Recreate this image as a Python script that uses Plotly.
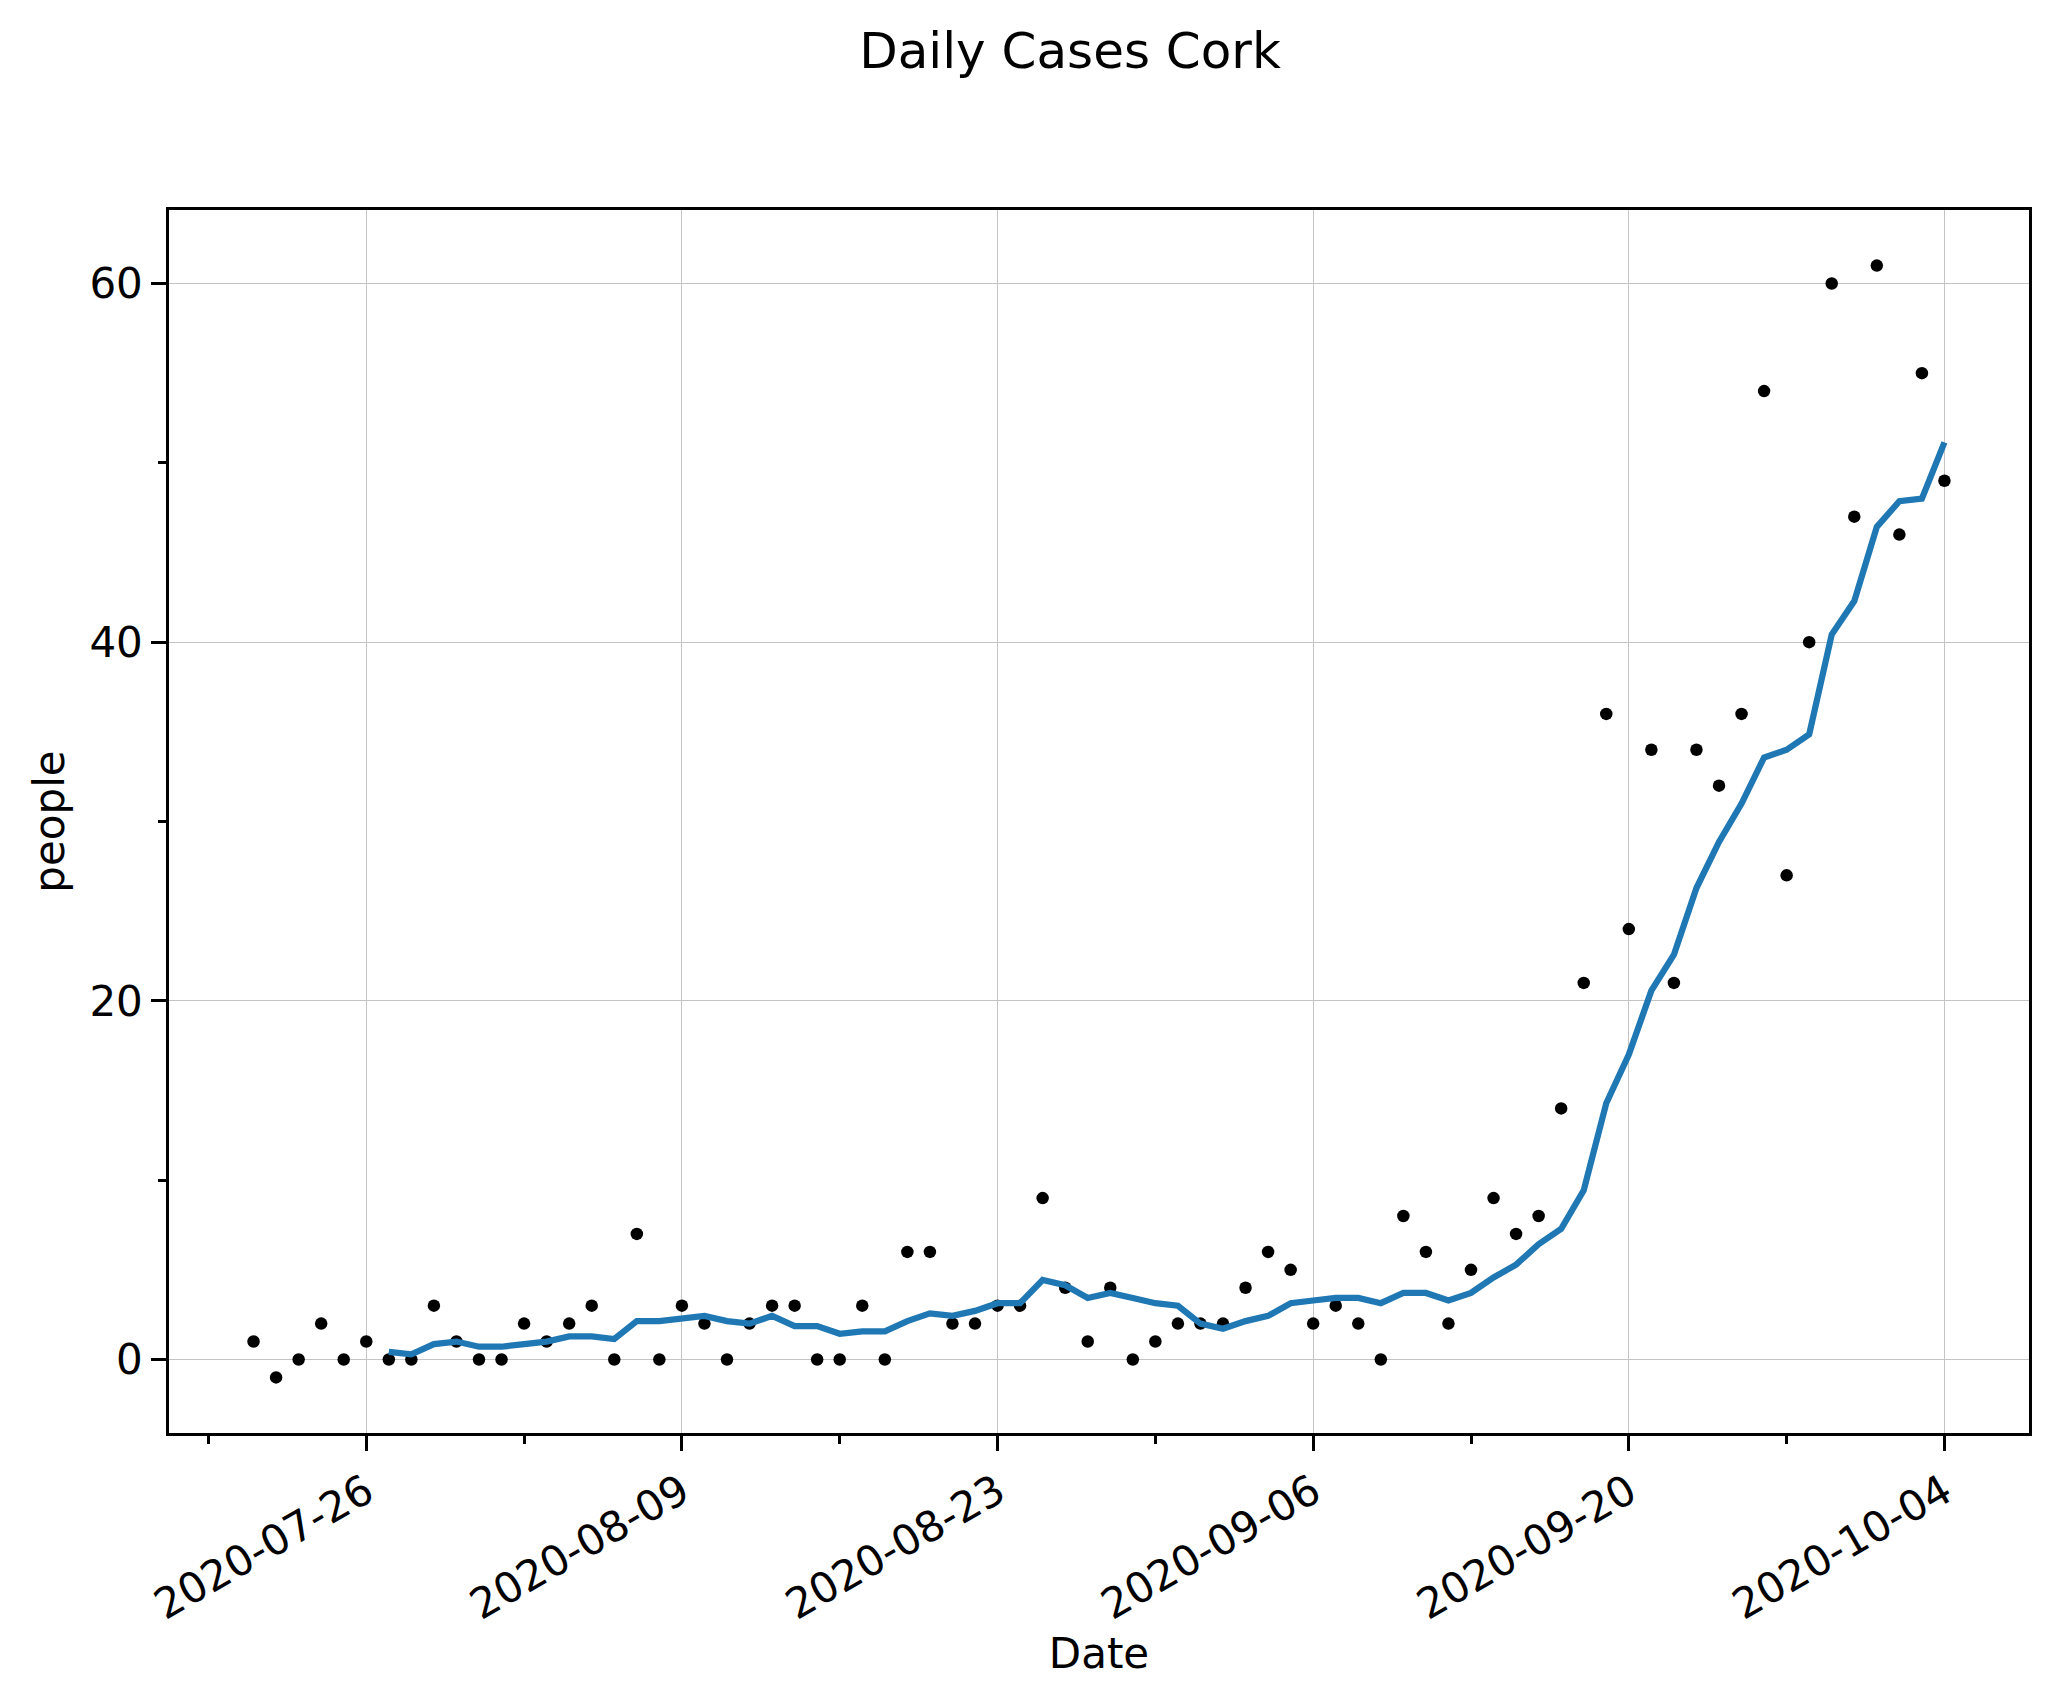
import pandas as pd
import plotly.graph_objects as go

# ---- data ----
start_date = "2020-07-21"
daily_cases = [1, -1, 0, 2, 0, 1, 0, 0, 3, 1, 0, 0, 2, 1, 2, 3, 0, 7, 0, 3,
               2, 0, 2, 3, 3, 0, 0, 3, 0, 6, 6, 2, 2, 3, 3, 9, 4, 1, 4, 0,
               1, 2, 2, 2, 4, 6, 5, 2, 3, 2, 0, 8, 6, 2, 5, 9, 7, 8, 14, 21,
               36, 24, 34, 21, 34, 32, 36, 54, 27, 40, 60, 47, 61, 46, 55, 49]
avg_start_date = "2020-07-27"
avg_cases = [0.43, 0.29, 0.86, 1.0, 0.71, 0.71, 0.86, 1.0, 1.29, 1.29, 1.14,
             2.14, 2.14, 2.29, 2.43, 2.14, 2.0, 2.43, 1.86, 1.86, 1.43, 1.57,
             1.57, 2.14, 2.57, 2.43, 2.71, 3.14, 3.14, 4.43, 4.14, 3.43, 3.71,
             3.43, 3.14, 3.0, 2.0, 1.71, 2.14, 2.43, 3.14, 3.29, 3.43, 3.43,
             3.14, 3.71, 3.71, 3.29, 3.71, 4.57, 5.29, 6.43, 7.29, 9.43, 14.29,
             17.0, 20.57, 22.57, 26.29, 28.86, 31.0, 33.57, 34.0, 34.86, 40.43,
             42.29, 46.43, 47.86, 48.0, 51.14]
y_ticks = [0, 20, 40, 60]

dates = pd.date_range(start_date, periods=len(daily_cases), freq="D")
avg_dates = pd.date_range(avg_start_date, periods=len(avg_cases), freq="D")

FONT = "DejaVu Sans"
DAY = 86400000

fig = go.Figure()
fig.add_trace(go.Scatter(
    x=dates, y=daily_cases, mode="markers",
    marker=dict(color="black", size=12.5, line=dict(width=0)),
    showlegend=False, name="Daily cases"))
fig.add_trace(go.Scatter(
    x=avg_dates, y=avg_cases, mode="lines",
    line=dict(color="#1f77b4", width=6.25),
    showlegend=False, name="7-day average"))

fig.update_layout(
    width=2058, height=1705,
    margin=dict(l=169, r=29, t=210, b=272, autoexpand=False),
    paper_bgcolor="white", plot_bgcolor="white",
    font=dict(family=FONT, size=42, color="black"),
    title=dict(text="Daily Cases Cork", font=dict(family=FONT, size=50, color="black"),
               x=1070 / 2058, xref="container", xanchor="center",
               y=1 - 50 / 1705, yref="container", yanchor="middle"),
)

fig.update_xaxes(
    type="date",
    range=["2020-07-17 06:00", "2020-10-07 18:00"],
    tick0="2020-07-26", dtick=14 * DAY, tickformat="%Y-%m-%d",
    tickangle=-30,
    tickfont=dict(family=FONT, size=42, color="black"),
    ticks="outside", ticklen=14.6, tickwidth=3.3, tickcolor="black",
    minor=dict(tick0="2020-07-19", dtick=14 * DAY, ticks="outside", ticklen=8.3,
               tickwidth=2.5, tickcolor="black", showgrid=False),
    showgrid=True, gridcolor="#c4c4c4", gridwidth=1,
    showline=True, linecolor="black", linewidth=3.3, mirror=True,
    zeroline=False,
    title=dict(text="Date", font=dict(family=FONT, size=42, color="black"), standoff=11),
)
fig.update_yaxes(
    range=[-4.1, 64.1],
    tickvals=y_ticks, ticktext=[str(v) for v in y_ticks],
    tickfont=dict(family=FONT, size=42, color="black"),
    ticks="outside", ticklen=14.6, tickwidth=3.3, tickcolor="black",
    minor=dict(tickvals=[10, 30, 50], ticks="outside", ticklen=8.3,
               tickwidth=2.5, tickcolor="black", showgrid=False),
    showgrid=True, gridcolor="#c4c4c4", gridwidth=1,
    showline=True, linecolor="black", linewidth=3.3, mirror=True,
    zeroline=False,
    title=dict(text="people", font=dict(family=FONT, size=42, color="black"), standoff=12),
)

fig.write_html("out.html")
